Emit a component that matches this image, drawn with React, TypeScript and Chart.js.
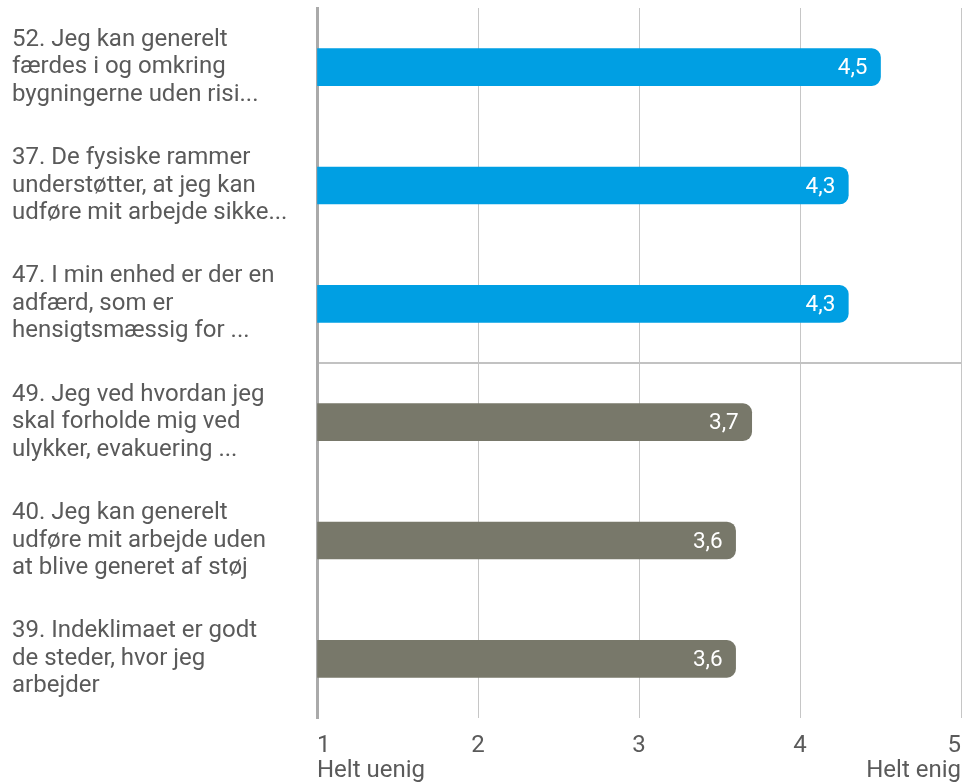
import React, { useEffect, useRef } from "react";
import { Chart, registerables } from "chart.js";

Chart.register(...registerables);

const categories: string[][] = [
  ["52. Jeg kan generelt", "færdes i og omkring", "bygningerne uden risi..."],
  ["37. De fysiske rammer", "understøtter, at jeg kan", "udføre mit arbejde sikke..."],
  ["47. I min enhed er der en", "adfærd, som er", "hensigtsmæssig for ..."],
  ["49. Jeg ved hvordan jeg", "skal forholde mig ved", "ulykker, evakuering ..."],
  ["40. Jeg kan generelt", "udføre mit arbejde uden", "at blive generet af støj"],
  ["39. Indeklimaet er godt", "de steder, hvor jeg", "arbejder"],
];
const values: number[] = [4.5, 4.3, 4.3, 3.7, 3.6, 3.6];
const barColors: string[] = ["#009fe3", "#009fe3", "#009fe3", "#78786a", "#78786a", "#78786a"];
const tickTexts: Record<number, string[]> = {
  1: ["1", "Helt uenig"],
  2: ["2"],
  3: ["3"],
  4: ["4"],
  5: ["5", "Helt enig"],
};

const FONT = "Roboto";
const TEXT = "#5a5a5a";

const valueLabels = {
  id: "valueLabels",
  afterDatasetsDraw(chart: any) {
    const ctx = chart.ctx;
    const meta = chart.getDatasetMeta(0);
    ctx.save();
    ctx.fillStyle = "#ffffff";
    ctx.font = `22.5px ${FONT}`;
    ctx.textAlign = "right";
    ctx.textBaseline = "middle";
    meta.data.forEach((bar: any, i: number) => {
      const txt = values[i].toFixed(1).replace(".", ",");
      ctx.fillText(txt, bar.x - 13, bar.y + 1.5);
    });
    ctx.restore();
  },
};

export default function App() {
  const ref = useRef<HTMLCanvasElement>(null);
  useEffect(() => {
    if (!ref.current) return;
    const chart = new Chart(ref.current, {
      type: "bar",
      data: {
        labels: categories,
        datasets: [
          {
            data: values,
            base: 1,
            backgroundColor: barColors,
            borderRadius: 9,
            borderSkipped: "start",
            barThickness: 37,
          } as any,
        ],
      },
      options: {
        indexAxis: "y",
        responsive: false,
        animation: false,
        layout: { padding: { left: 12, top: 8, right: 5, bottom: 0 } },
        plugins: { legend: { display: false }, tooltip: { enabled: false } },
        scales: {
          x: {
            min: 1,
            max: 5,
            ticks: {
              stepSize: 1,
              align: "inner",
              padding: 16,
              color: TEXT,
              font: { family: FONT, size: 24, lineHeight: 1.04 },
              callback: (v: any) => tickTexts[v as number] || String(v),
            },
            grid: { color: "#c6c6c6", lineWidth: 1, drawTicks: false },
            border: { display: false },
            afterFit: (s: any) => {
              s.height = 66;
              s.paddingLeft = 0;
              s.paddingRight = 0;
            },
          },
          y: {
            ticks: {
              crossAlign: "far",
              color: TEXT,
              font: { family: FONT, size: 24, lineHeight: 1.15 },
            },
            grid: {
              offset: true,
              drawTicks: false,
              lineWidth: 2,
              color: (c: any) => (c.index === 3 ? "#c2c2c2" : "rgba(0,0,0,0)"),
            },
            border: { display: true, color: "#aaaaaa", width: 3 },
            afterFit: (s: any) => {
              s.width = 305;
              s.paddingTop = 0;
              s.paddingBottom = 0;
            },
          },
        },
      } as any,
      plugins: [valueLabels],
    });
    return () => chart.destroy();
  }, []);
  return (
    <div style={{ position: "absolute", left: 0, top: 0, width: 966, height: 784, background: "#fff" }}>
      <canvas ref={ref} width={966} height={784} />
    </div>
  );
}
